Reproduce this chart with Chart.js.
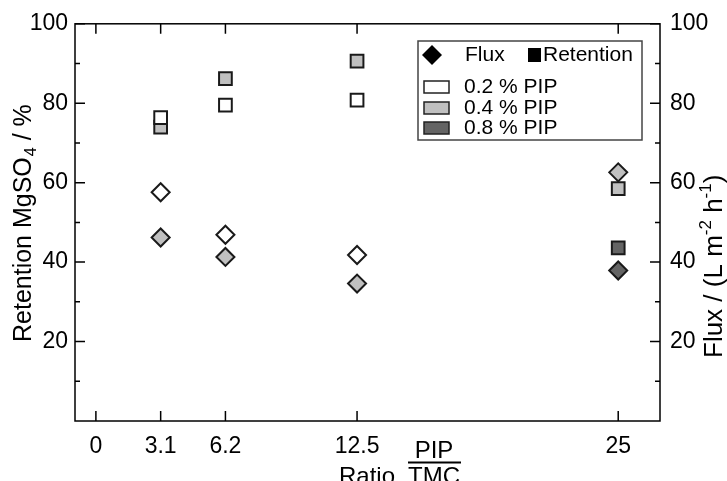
<!DOCTYPE html>
<html><head><meta charset="utf-8">
<style>html,body{margin:0;padding:0;background:#fff;overflow:hidden}canvas{display:block}</style>
<script src="https://cdn.jsdelivr.net/npm/chart.js@4/dist/chart.umd.min.js"></script>
</head><body>
<canvas id="c" width="727" height="481"></canvas>
<script>
const xTickValues = [0, 3.1, 6.2, 12.5, 25];
const yMajorTicks = [20, 40, 60, 80, 100];
const yMinorTicks = [10, 30, 50, 70, 90];
const ratio02 = [3.1, 6.2, 12.5];
const ratio04 = [3.1, 6.2, 12.5, 25];
const ratio08 = [25];
const retention02 = [76.4, 79.5, 80.8];
const retention04 = [74.0, 86.2, 90.6, 58.5];
const retention08 = [43.6];
const flux02 = [57.6, 46.9, 41.8];
const flux04 = [46.2, 41.3, 34.6, 62.6];
const flux08 = [37.9];
const seriesNames = ['0.2 % PIP', '0.4 % PIP', '0.8 % PIP'];
const seriesColors = ['#ffffff', '#c0c0c0', '#646464'];

const FONT = '"Liberation Sans", Arial, Helvetica, sans-serif';
Chart.defaults.font.family = FONT;
Chart.defaults.color = '#000';

function pts(xs, ys) { return xs.map((x, i) => ({x: x, y: ys[i]})); }
function ds(label, xs, ys, color, style, axis) {
  return {label: label, data: pts(xs, ys), yAxisID: axis, showLine: false,
    pointStyle: style, pointRadius: 9, pointHoverRadius: 9,
    backgroundColor: color, borderColor: '#1a1a1a', pointBorderWidth: 2, borderWidth: 2};
}

const datasets = [
  ds('Flux ' + seriesNames[0], ratio02, flux02, seriesColors[0], 'rectRot', 'y2'),
  ds('Flux ' + seriesNames[1], ratio04, flux04, seriesColors[1], 'rectRot', 'y2'),
  ds('Flux ' + seriesNames[2], ratio08, flux08, seriesColors[2], 'rectRot', 'y2'),
  ds('Retention ' + seriesNames[0], ratio02, retention02, seriesColors[0], 'rect', 'y'),
  ds('Retention ' + seriesNames[1], ratio04, retention04, seriesColors[1], 'rect', 'y'),
  ds('Retention ' + seriesNames[2], ratio08, retention08, seriesColors[2], 'rect', 'y')
];

const framePlugin = {
  id: 'frame',
  beforeDatasetsDraw(chart) {
    const {ctx, chartArea: a, scales} = chart;
    ctx.save();
    ctx.strokeStyle = '#000';
    ctx.lineWidth = 1.5;
    ctx.strokeRect(a.left, a.top, a.right - a.left, a.bottom - a.top);
    ctx.beginPath();
    xTickValues.forEach(v => {
      const px = scales.x.getPixelForValue(v);
      ctx.moveTo(px, a.bottom); ctx.lineTo(px, a.bottom - 10);
      ctx.moveTo(px, a.top); ctx.lineTo(px, a.top + 10);
    });
    yMajorTicks.forEach(v => {
      const py = scales.y.getPixelForValue(v);
      ctx.moveTo(a.left, py); ctx.lineTo(a.left + 10, py);
      const py2 = scales.y2.getPixelForValue(v);
      ctx.moveTo(a.right, py2); ctx.lineTo(a.right - 10, py2);
    });
    yMinorTicks.forEach(v => {
      const py = scales.y.getPixelForValue(v);
      ctx.moveTo(a.left, py); ctx.lineTo(a.left + 5, py);
      const py2 = scales.y2.getPixelForValue(v);
      ctx.moveTo(a.right, py2); ctx.lineTo(a.right - 5, py2);
    });
    ctx.stroke();
    ctx.restore();
  },
  afterDraw(chart) {
    const ctx = chart.ctx;
    ctx.save();
    ctx.fillStyle = '#000';
    // Left axis title
    ctx.save();
    ctx.translate(31, 342);
    ctx.rotate(-Math.PI / 2);
    ctx.textAlign = 'left'; ctx.textBaseline = 'alphabetic';
    ctx.font = '25px ' + FONT;
    let t1 = 'Retention MgSO';
    ctx.fillText(t1, 0, 0);
    let w = ctx.measureText(t1).width;
    ctx.font = '16px ' + FONT;
    ctx.fillText('4', w + 1, 5);
    w += ctx.measureText('4').width + 1;
    ctx.font = '25px ' + FONT;
    ctx.fillText(' / %', w, 0);
    ctx.restore();
    // Right axis title
    ctx.save();
    ctx.translate(722, 358);
    ctx.rotate(-Math.PI / 2);
    ctx.textAlign = 'left'; ctx.textBaseline = 'alphabetic';
    const parts = [['Flux / (L m', 0, 26], ['-2', -11, 17], [' h', 0, 26], ['-1', -11, 17], [')', 0, 26]];
    let xx = 0;
    parts.forEach(p => {
      ctx.font = p[2] + 'px ' + FONT;
      ctx.fillText(p[0], xx, p[1]);
      xx += ctx.measureText(p[0]).width;
    });
    ctx.restore();
    // X axis title
    ctx.font = '24px ' + FONT;
    ctx.textAlign = 'left'; ctx.textBaseline = 'alphabetic';
    ctx.fillText('Ratio', 339, 484);
    ctx.textAlign = 'center';
    ctx.fillText('PIP', 434, 458);
    ctx.fillText('TMC', 434, 484);
    ctx.strokeStyle = '#000'; ctx.lineWidth = 1.8;
    ctx.beginPath(); ctx.moveTo(408, 462.5); ctx.lineTo(461, 462.5); ctx.stroke();
    // Legend
    ctx.strokeStyle = '#444'; ctx.lineWidth = 1.5;
    ctx.strokeRect(418, 41, 224, 99);
    ctx.font = '21px ' + FONT;
    ctx.textAlign = 'left'; ctx.textBaseline = 'middle';
    ctx.fillStyle = '#000';
    Chart.helpers.drawPoint(ctx, {pointStyle: 'rectRot', radius: 10, rotation: 0, borderWidth: 0}, 432, 55);
    ctx.fillText('Flux', 465, 55);
    ctx.fillRect(528, 48, 13, 14);
    ctx.fillText('Retention', 543, 55);
    const rowsY = [87, 108, 128];
    seriesNames.forEach((n, i) => {
      ctx.fillStyle = seriesColors[i];
      ctx.fillRect(424, rowsY[i] - 6, 25, 12);
      ctx.strokeStyle = '#222'; ctx.lineWidth = 1.5;
      ctx.strokeRect(424, rowsY[i] - 6, 25, 12);
      ctx.fillStyle = '#000';
      ctx.fillText(n, 464, rowsY[i]);
    });
    ctx.restore();
  }
};

const axisCommon = {
  grid: {display: false, drawTicks: false},
  border: {display: false}
};

new Chart(document.getElementById('c'), {
  type: 'scatter',
  data: {datasets: datasets},
  options: {
    responsive: false, animation: false, devicePixelRatio: 1,
    layout: {padding: {top: 23, left: 0, right: 0, bottom: 0}},
    plugins: {legend: {display: false}, tooltip: {enabled: false}},
    scales: {
      x: Object.assign({}, axisCommon, {
        type: 'linear', position: 'bottom', min: -1, max: 27,
        afterBuildTicks: s => { s.ticks = xTickValues.map(v => ({value: v})); },
        afterFit: s => { s.height = 60; },
        ticks: {color: '#000', font: {size: 23}, padding: 12, autoSkip: false, maxRotation: 0,
                callback: v => String(v)}
      }),
      y: Object.assign({}, axisCommon, {
        type: 'linear', position: 'left', min: 0, max: 100,
        afterBuildTicks: s => { s.ticks = yMajorTicks.map(v => ({value: v})); },
        afterFit: s => { s.width = 75; },
        ticks: {color: '#000', font: {size: 23}, padding: 7, callback: v => String(v)}
      }),
      y2: Object.assign({}, axisCommon, {
        type: 'linear', position: 'right', min: 0, max: 100,
        afterBuildTicks: s => { s.ticks = yMajorTicks.map(v => ({value: v})); },
        afterFit: s => { s.width = 67; },
        ticks: {color: '#000', font: {size: 23}, padding: 10, callback: v => String(v)}
      })
    }
  },
  plugins: [framePlugin]
});
</script>
</body></html>
